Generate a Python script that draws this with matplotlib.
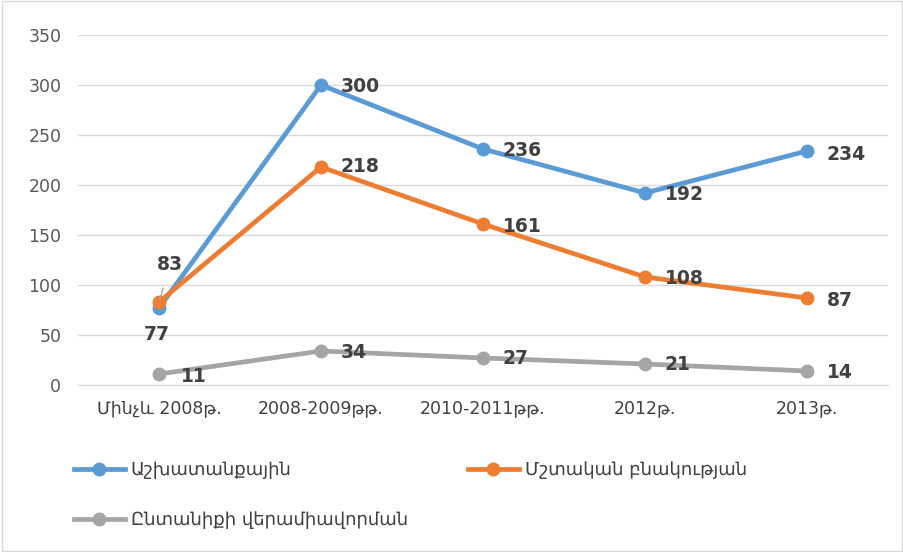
import matplotlib
matplotlib.use("Agg")
import matplotlib.pyplot as plt
from matplotlib.patches import Rectangle
from matplotlib.lines import Line2D

plt.rcParams['font.family'] = ['DejaVu Sans']

categories = ["Մինչև 2008թ.", "2008-2009թթ.", "2010-2011թթ.", "2012թ.", "2013թ."]
series_names = ["Աշխատանքային", "Մշտական բնակության", "Ընտանիքի վերամիավորման"]
work = [77, 300, 236, 192, 234]
permanent = [83, 218, 161, 108, 87]
family = [11, 34, 27, 21, 14]
yticks = [0, 50, 100, 150, 200, 250, 300, 350]

colors = ["#5B9BD5", "#ED7D31", "#A5A5A5"]
series = [work, permanent, family]

fig = plt.figure(figsize=(9.04, 5.52), dpi=100)
ax = fig.add_axes([78/904, 1-385/552, (888-78)/904, 350/552])

x = list(range(len(categories)))
for vals, c in zip(series, colors):
    ax.plot(x, vals, color=c, lw=3.4, marker='o', markersize=9, solid_capstyle='round', zorder=3)

ax.set_xlim(-0.5, len(categories) - 0.5)
ax.set_ylim(0, 350)
ax.set_yticks(yticks)
ax.set_xticks(x)
ax.set_xticklabels(categories, fontsize=12.5, color="#404040")
ax.tick_params(axis='y', labelsize=12.5, colors="#595959", length=0, pad=12)
ax.tick_params(axis='x', length=0, pad=10)
ax.grid(axis='y', color="#D9D9D9", lw=1)
ax.set_axisbelow(True)
for s in ['top', 'right', 'left']:
    ax.spines[s].set_visible(False)
ax.spines['bottom'].set_color("#D9D9D9")

lab_kw = dict(textcoords='offset pixels', fontsize=13.5, fontweight='bold', color="#404040", va='center')

def label(xi, yi, dx, dy, ha='left', **extra):
    ax.annotate(str(yi), (xi, yi), xytext=(dx, dy), ha=ha, **lab_kw, **extra)

# blue
label(0, work[0], -2, -26, ha='center')
for i, (dx, dy) in zip(range(1, 5), [(20, -1), (20, -2), (20, -1), (20, -3)]):
    label(i, work[i], dx, dy)
# orange
ax.annotate(str(permanent[0]), (0, permanent[0]), xytext=(11, 37), ha='center',
            arrowprops=dict(arrowstyle='-', color="#A5A5A5", lw=1, shrinkA=8, shrinkB=2),
            **lab_kw)
for i, (dx, dy) in zip(range(1, 5), [(20, 0), (20, -2), (20, -1), (20, -2)]):
    label(i, permanent[i], dx, dy)
# gray
for i, (dx, dy) in zip(range(0, 5), [(22, -3), (20, -1), (20, 0), (20, -1), (20, -1)]):
    label(i, family[i], dx, dy)

# legend entries
def handle(c):
    return Line2D([], [], color=c, lw=3.4, marker='o', markersize=9)

positions = [(74/904, 1-470/552), (468/904, 1-470/552), (74/904, 1-520/552)]
for name, c, pos in zip(series_names, colors, positions):
    leg = fig.legend([handle(c)], [name], loc='center left', bbox_to_anchor=pos,
                     frameon=False, fontsize=13, handlelength=2.8, handletextpad=0.35,
                     borderaxespad=0, borderpad=0)
    for t in leg.get_texts():
        t.set_color("#404040")

fig.patches.append(Rectangle((0.002, 0.002), 0.996, 0.996, transform=fig.transFigure,
                             fill=False, edgecolor="#D9D9D9", lw=1))

fig.savefig("out.png", dpi=100)
